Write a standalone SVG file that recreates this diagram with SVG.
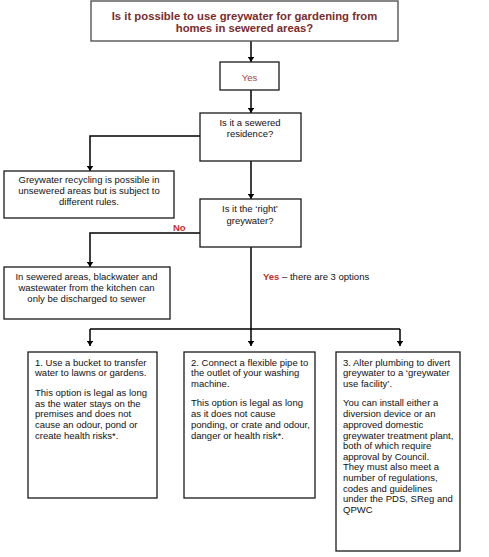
<svg xmlns="http://www.w3.org/2000/svg" width="489" height="557" viewBox="0 0 489 557">
<defs>
<marker id="ah" viewBox="0 0 8 10" refX="8" refY="5" markerWidth="3.6" markerHeight="4.5" orient="auto" markerUnits="strokeWidth">
<path d="M0,0 L8,5 L0,10 Z" fill="#000"/>
</marker>
</defs>
<style>
.box{fill:#fff;stroke:#1a1a1a;stroke-width:1.3}
.tbox{fill:#fff;stroke:#555;stroke-width:1.4}
.t{font-family:"Liberation Sans",Arial,sans-serif;font-size:9.5px;fill:#111}
.c{text-anchor:middle}
.title{font-family:"Liberation Sans",Arial,sans-serif;font-size:11.3px;font-weight:bold;fill:#7a2c2c;text-anchor:middle}
.con{fill:none;stroke:#000;stroke-width:1.5;marker-end:url(#ah)}
.line{fill:none;stroke:#000;stroke-width:1.5}
</style>
<rect width="489" height="557" fill="#fff"/>
<g id="connectors">
<path class="con" d="M251,41 V62"/>
<path class="con" d="M251,90 V113"/>
<path class="con" d="M200,136 H90 V171"/>
<path class="con" d="M251,161 V199"/>
<path class="con" d="M200,233 H90 V267"/>
<path class="line" d="M251,247 V329"/>
<path class="line" d="M90,329 H400"/>
<path class="con" d="M90,329 V346"/>
<path class="con" d="M251,329 V346"/>
<path class="con" d="M400,329 V346"/>
<text class="t" x="173" y="230.5" style="font-weight:bold;fill:#c03030">No</text>
<text class="t" x="263" y="279.5"><tspan style="font-weight:bold;fill:#c03030">Yes</tspan> – there are 3 options</text>
</g>
<g id="n-title">
<rect class="tbox" x="91" y="1" width="307" height="40"/>
<text class="title" x="244.5" y="20">Is it possible to use greywater for gardening from</text>
<text class="title" x="244.5" y="32">homes in sewered areas?</text>
</g>
<g id="n-yes">
<rect class="box" x="220" y="62" width="59" height="28"/>
<text class="t c" x="249.5" y="81.3" style="fill:#a04848">Yes</text>
</g>
<g id="n-sewered">
<rect class="box" x="200" y="113" width="101" height="48"/>
<text class="t c" x="250" y="125.5">Is it a sewered</text>
<text class="t c" x="250" y="136.5">residence?</text>
</g>
<g id="n-unsewered">
<rect class="box" x="4" y="171" width="170" height="47"/>
<text class="t c" x="89" y="182.5">Greywater recycling is possible in</text>
<text class="t c" x="89" y="193.5">unsewered areas but is subject to</text>
<text class="t c" x="89" y="204.5">different rules.</text>
</g>
<g id="n-right">
<rect class="box" x="200" y="199" width="101" height="48"/>
<text class="t c" x="250" y="211.5">Is it the ‘right’</text>
<text class="t c" x="250" y="223.5">greywater?</text>
</g>
<g id="n-sewer">
<rect class="box" x="4" y="267" width="166" height="52"/>
<text class="t c" x="86.5" y="279.5">In sewered areas, blackwater and</text>
<text class="t c" x="86.5" y="290.5">wastewater from the kitchen can</text>
<text class="t c" x="86.5" y="301.5">only be discharged to sewer</text>
</g>
<g id="n-opt1">
<rect class="box" x="28" y="352" width="129" height="146"/>
<text class="t" x="35" y="365.5">1. Use a bucket to transfer</text>
<text class="t" x="35" y="376.2">water to lawns or gardens.</text>
<text class="t" x="35" y="396.2">This option is legal as long</text>
<text class="t" x="35" y="406.5">as the water stays on the</text>
<text class="t" x="35" y="417.2">premises and does not</text>
<text class="t" x="35" y="427.8">cause an odour, pond or</text>
<text class="t" x="35" y="438.5">create health risks*.</text>
</g>
<g id="n-opt2">
<rect class="box" x="184" y="352" width="131" height="146"/>
<text class="t" x="191" y="365.5">2. Connect a flexible pipe to</text>
<text class="t" x="191" y="376">the outlet of your washing</text>
<text class="t" x="191" y="386.5">machine.</text>
<text class="t" x="191" y="406.2">This option is legal as long</text>
<text class="t" x="191" y="417.2">as it does not cause</text>
<text class="t" x="191" y="427.8">ponding, or crate and odour,</text>
<text class="t" x="191" y="438.5">danger or health risk*.</text>
</g>
<g id="n-opt3">
<rect class="box" x="336" y="352" width="124" height="199"/>
<text class="t" x="343" y="365.5">3. Alter plumbing to divert</text>
<text class="t" x="343" y="376">greywater to a ‘greywater</text>
<text class="t" x="343" y="386.5">use facility’.</text>
<text class="t" x="343" y="406.2">You can install either a</text>
<text class="t" x="343" y="417.2">diversion device or an</text>
<text class="t" x="343" y="427.8">approved domestic</text>
<text class="t" x="343" y="438.5">greywater treatment plant,</text>
<text class="t" x="343" y="449.2">both of which require</text>
<text class="t" x="343" y="459.8">approval by Council.</text>
<text class="t" x="343" y="470.2">They must also meet a</text>
<text class="t" x="343" y="480.8">number of regulations,</text>
<text class="t" x="343" y="491.5">codes and guidelines</text>
<text class="t" x="343" y="501.8">under the PDS, SReg and</text>
<text class="t" x="343" y="512.5">QPWC</text>
</g>
</svg>
